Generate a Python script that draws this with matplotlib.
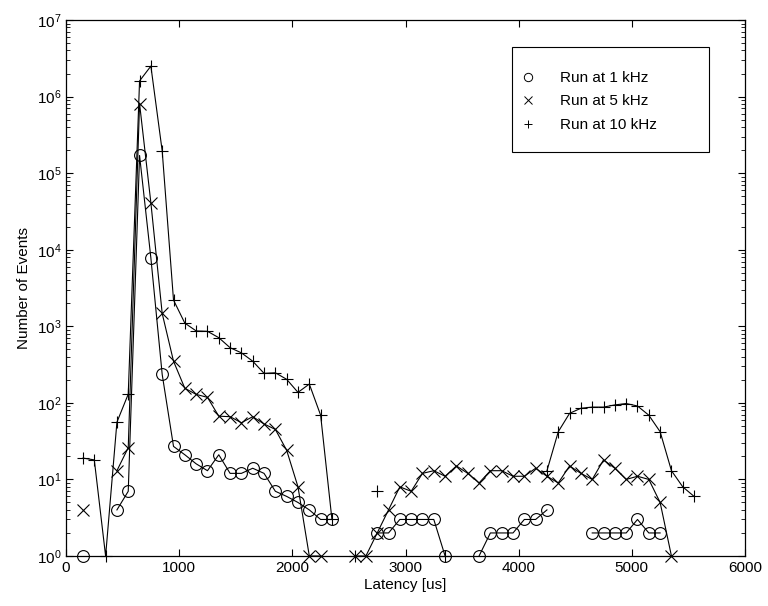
import numpy as np
import matplotlib
matplotlib.use("Agg")
import matplotlib.pyplot as plt
from matplotlib.lines import Line2D
from matplotlib.patches import Rectangle

plt.rcParams['font.family'] = ['Liberation Sans', 'DejaVu Sans']
plt.rcParams['mathtext.fontset'] = 'custom'
plt.rcParams['mathtext.rm'] = 'Liberation Sans'
plt.rcParams['mathtext.it'] = 'Liberation Sans'

# latency histogram, 100 us bins (bin centres)
latency = np.arange(150, 5650, 100)

# event counts per bin; 0 = empty bin (not drawn on log axis)
run_1k = [1, 0, 0, 4, 7, 1.7e5, 7800, 235, 27, 21,
          16, 13, 21, 12, 12, 14, 12, 7, 6, 5,
          4, 3, 3, 0, 0, 0, 2, 2, 3, 3,
          3, 3, 1, 0, 0, 1, 2, 2, 2, 3,
          3, 4, 0, 0, 0, 2, 2, 2, 2, 3,
          2, 2, 0, 0, 0]
run_5k = [4, 0, 0, 13, 26, 8.1e5, 4.1e4, 1470, 350, 155,
          129, 118, 67, 66, 55, 66, 53, 45, 24, 8,
          1, 1, 0, 0, 1, 1, 2, 4, 8, 7,
          12, 13, 11, 15, 12, 9, 13, 13, 11, 11,
          14, 11, 9, 15, 12, 10, 18, 14, 10, 11,
          10, 5, 1, 0, 0]
run_10k = [19, 18, 1, 56, 130, 1.6e6, 2.5e6, 1.95e5, 2200, 1100,
           870, 860, 710, 525, 450, 350, 243, 247, 203, 137,
           176, 69, 3, 0, 1, 0, 7, 0, 0, 0,
           0, 0, 1, 0, 0, 0, 0, 0, 0, 0,
           0, 13, 42, 73, 85, 88, 88, 94, 98, 91,
           69, 42, 13, 8, 6]

series = [
    (run_1k, 'o', 'Run at 1 kHz'),
    (run_5k, 'x', 'Run at 5 kHz'),
    (run_10k, '+', 'Run at 10 kHz'),
]

fig = plt.figure(figsize=(7.68, 6.06), dpi=100)
ax = fig.add_axes([66 / 768, 1 - 556 / 606, (745 - 66) / 768, (556 - 20) / 606])

handles = []
for counts, mk, label in series:
    y = np.array(counts, dtype=float)
    y[y == 0] = np.nan
    ax.plot(latency, y, color='black', lw=0.8, marker=mk, ms=8.5,
            mfc='none', mec='black', mew=0.8, clip_on=False, zorder=3)
    handles.append(Line2D([], [], ls='none', marker=mk, ms=6, mfc='none',
                          mec='black', mew=0.7, label=label))

ax.set_yscale('log')
ax.set_xlim(0, 6000)
ax.set_ylim(1, 1e7)
ax.set_xticks(range(0, 6001, 1000))
ax.set_yticks([10.0 ** k for k in range(8)])

ax.tick_params(which='both', direction='in', top=True, right=True,
               labelsize=11, colors='black')
ax.tick_params(which='major', length=5, width=0.8)
ax.tick_params(which='minor', length=3, width=0.6)
for sp in ax.spines.values():
    sp.set_linewidth(0.9)

ax.set_xlabel('Latency [us]', fontsize=11, labelpad=2)
ax.set_ylabel('Number of Events', fontsize=11, labelpad=4)

# legend box drawn separately so the entries can sit with MATLAB-style padding
box = Rectangle((512 / 768, 1 - 152 / 606), 197 / 768, 105 / 606,
                transform=fig.transFigure, facecolor='white',
                edgecolor='black', lw=0.8, zorder=4, clip_on=False)
ax.add_patch(box)
leg = ax.legend(handles=handles, loc='upper left', frameon=False,
                bbox_to_anchor=(522 / 768, 1 - 71 / 606),
                bbox_transform=fig.transFigure, fontsize=11,
                handlelength=0.8, handletextpad=1.7, borderpad=0,
                labelspacing=0.62, borderaxespad=0)
leg.set_zorder(5)

fig.savefig('out.png', dpi=100)
